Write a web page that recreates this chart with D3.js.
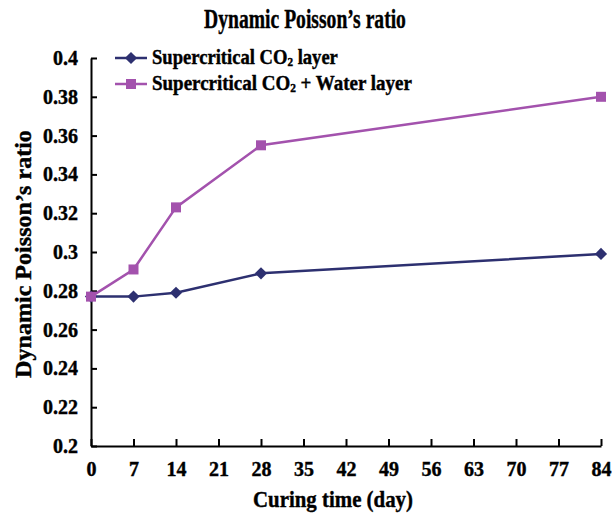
<!DOCTYPE html>
<html>
<head>
<meta charset="utf-8">
<script src="https://cdn.jsdelivr.net/npm/d3@7"></script>
<style>
  body { margin: 0; background: #fff; }
  svg text { font-family: "Liberation Serif", "Times New Roman", serif; font-weight: bold; fill: #000; stroke: #000; stroke-width: 0.4px; }
</style>
</head>
<body>
<svg id="chart"></svg>
<script>
const days = [0, 7, 14, 28, 84];
const co2Layer = [0.277, 0.277, 0.279, 0.289, 0.299];
const co2WaterLayer = [0.277, 0.291, 0.323, 0.355, 0.380];
const xTicks = [0, 7, 14, 21, 28, 35, 42, 49, 56, 63, 70, 77, 84];
const yTicks = [0.2, 0.22, 0.24, 0.26, 0.28, 0.3, 0.32, 0.34, 0.36, 0.38, 0.4];

const width = 614;
const height = 518;
const margin = { top: 58, right: 13, bottom: 72, left: 91 };

const svg = d3.select("#chart")
              .attr("width", width)
              .attr("height", height);

const x = d3.scaleLinear().domain([0, 84]).range([margin.left, width - margin.right]);
const y = d3.scaleLinear().domain([0.2, 0.4]).range([height - margin.bottom, margin.top]);

// squeeze a text horizontally so it spans w pixels (the source font is narrow)
function fit(text, w) {
  const bw = text.node().getComputedTextLength();
  text.attr("transform", `scale(${w / bw},1)`);
}

// title
const title = svg.append("g").attr("transform", "translate(305,28)")
   .append("text")
   .attr("text-anchor", "middle")
   .style("font-size", "27px")
   .text("Dynamic Poisson\u2019s ratio");
fit(title, 202);

// axes
const xAxis = svg.append("g")
   .attr("transform", `translate(0,${y(0.2)})`)
   .call(d3.axisBottom(x).tickValues(xTicks).tickSizeInner(-7).tickSizeOuter(0).tickPadding(14));

const yAxis = svg.append("g")
   .attr("transform", `translate(${x(0)},0)`)
   .call(d3.axisLeft(y).tickValues(yTicks).tickSizeInner(-6).tickSizeOuter(0).tickPadding(13)
     .tickFormat(d => String(+d.toFixed(2))));

[xAxis, yAxis].forEach(g => {
  g.select(".domain").attr("stroke", "#000").attr("stroke-width", 2);
  g.selectAll(".tick line").attr("stroke", "#000").attr("stroke-width", 2);
  g.selectAll(".tick text").style("font-size", "20px").attr("font-family", null);
});
xAxis.selectAll(".tick text").attr("dy", "0.8em");

// axis labels
const xLabel = svg.append("g").attr("transform", "translate(333,507)")
   .append("text")
   .attr("text-anchor", "middle")
   .style("font-size", "23px")
   .text("Curing time (day)");
fit(xLabel, 160);

const yLabel = svg.append("g").attr("transform", "translate(31,254) rotate(-90)")
   .append("text")
   .attr("text-anchor", "middle")
   .style("font-size", "23px")
   .text("Dynamic Poisson\u2019s ratio");
fit(yLabel, 248);

// series
const line = d3.line().x((d, i) => x(days[i])).y(d => y(d));
const series = [
  { name: "Supercritical CO", tail: " layer", values: co2Layer, color: "#2d3070", symbol: d3.symbolDiamond2, size: 95, textWidth: 186 },
  { name: "Supercritical CO", tail: " + Water layer", values: co2WaterLayer, color: "#a352ad", symbol: d3.symbolSquare, size: 100, textWidth: 260 }
];

series.forEach(s => {
  svg.append("path")
     .datum(s.values)
     .attr("fill", "none")
     .attr("stroke", s.color)
     .attr("stroke-width", 2.5)
     .attr("d", line);

  svg.selectAll(null)
     .data(s.values)
     .enter()
     .append("path")
       .attr("transform", (d, i) => `translate(${x(days[i])},${y(d)})`)
       .attr("d", d3.symbol().type(s.symbol).size(s.size))
       .attr("fill", s.color);
});

// legend
const legend = svg.append("g").attr("transform", "translate(115,58)");
series.forEach((s, i) => {
  const row = legend.append("g").attr("transform", `translate(0,${i * 26})`);
  row.append("line").attr("x1", 0).attr("x2", 32).attr("stroke", s.color).attr("stroke-width", 2.5);
  row.append("path").attr("transform", "translate(16,0)")
     .attr("d", d3.symbol().type(s.symbol).size(s.size)).attr("fill", s.color);
  const t = row.append("g").attr("transform", "translate(37,6)")
     .append("text").style("font-size", "20px");
  t.append("tspan").text(s.name);
  t.append("tspan").attr("dy", 2).style("font-size", "12px").text("2");
  t.append("tspan").attr("dy", -2).text(s.tail);
  fit(t, s.textWidth);
});
</script>
</body>
</html>
